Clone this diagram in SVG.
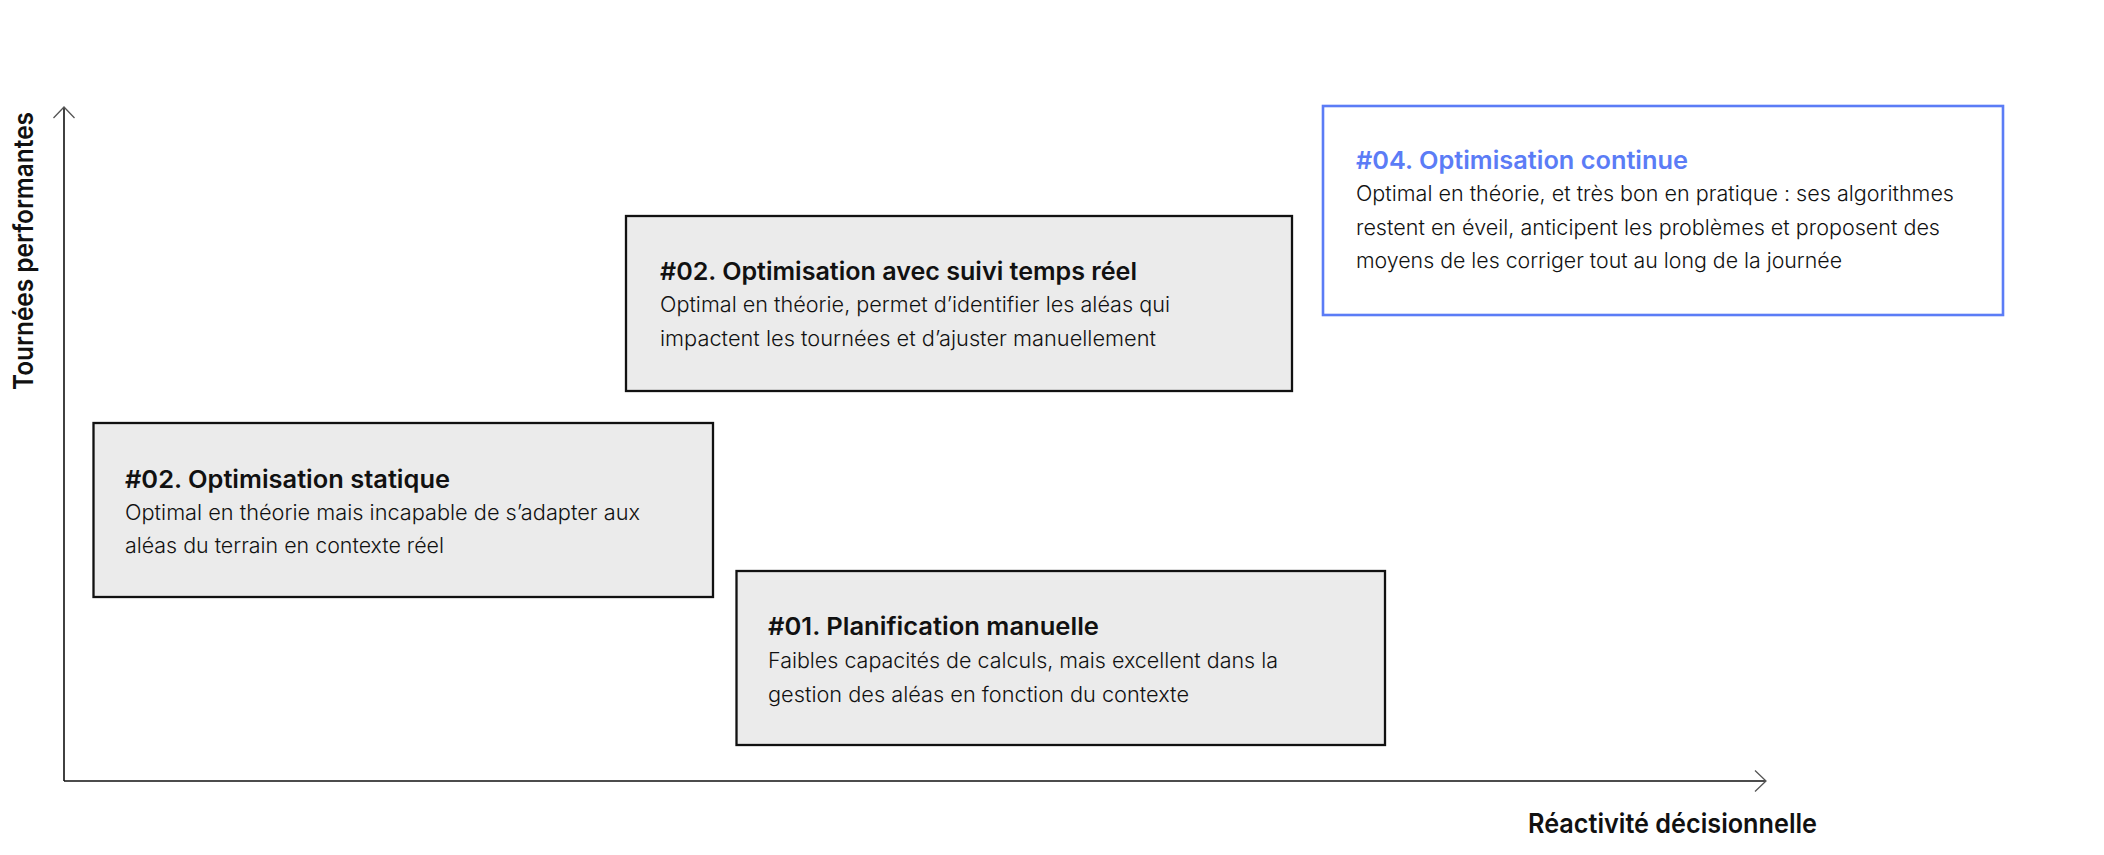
<svg xmlns="http://www.w3.org/2000/svg" width="2104" height="855" viewBox="0 0 2104 855">
<style>
.box{fill:#EBEBEB;stroke:#111;stroke-width:2.3}
.boxb{fill:#fff;stroke:#5B7CF6;stroke-width:2.6}
.t{font-family:Inter,"Liberation Sans",sans-serif;font-weight:600;font-size:24.5px;fill:#111}
.tb{fill:#5B7CF6}
.b{font-family:Inter,"Liberation Sans",sans-serif;font-weight:300;font-size:21px;fill:#111}
.ax{font-family:Inter,"Liberation Sans",sans-serif;font-weight:600;font-size:27px;fill:#111}
.axis{stroke:#111;stroke-width:1.6;fill:none}
</style>
<defs>
<marker id="arr" markerUnits="userSpaceOnUse" viewBox="0 0 13 24" refX="12" refY="12" markerWidth="13" markerHeight="24" orient="auto">
<path d="M1,1.5 L12,12 L1,22.5" fill="none" stroke="#555" stroke-width="1.3"/>
</marker>
</defs>
<rect width="2104" height="855" fill="#fff"/>
<g id="connectors">
<line class="axis" x1="64" y1="781" x2="64" y2="107" marker-end="url(#arr)"/>
<line class="axis" x1="64" y1="781" x2="1766" y2="781" marker-end="url(#arr)"/>
</g>
<g id="axis-y-label">
<text class="ax" transform="translate(33,390) rotate(-90)" textLength="278" lengthAdjust="spacingAndGlyphs">Tournées performantes</text>
</g>
<g id="axis-x-label">
<text class="ax" x="1528" y="833" textLength="289" lengthAdjust="spacingAndGlyphs">Réactivité décisionnelle</text>
</g>
<g id="node-statique">
<rect class="box" x="93.5" y="423" width="619.5" height="174"/>
<text class="t" x="125" y="488" textLength="325" lengthAdjust="spacingAndGlyphs">#02. Optimisation statique</text>
<text class="b" x="125" y="520" textLength="515" lengthAdjust="spacingAndGlyphs">Optimal en théorie mais incapable de s’adapter aux</text>
<text class="b" x="125" y="553" textLength="319" lengthAdjust="spacingAndGlyphs">aléas du terrain en contexte réel</text>
</g>
<g id="node-temps-reel">
<rect class="box" x="626" y="216" width="666" height="175"/>
<text class="t" x="660" y="280" textLength="477" lengthAdjust="spacingAndGlyphs">#02. Optimisation avec suivi temps réel</text>
<text class="b" x="660" y="312" textLength="510" lengthAdjust="spacingAndGlyphs">Optimal en théorie, permet d’identifier les aléas qui</text>
<text class="b" x="660" y="346" textLength="496" lengthAdjust="spacingAndGlyphs">impactent les tournées et d’ajuster manuellement</text>
</g>
<g id="node-manuelle">
<rect class="box" x="736.5" y="571" width="648.5" height="174"/>
<text class="t" x="768" y="635" textLength="331" lengthAdjust="spacingAndGlyphs">#01. Planification manuelle</text>
<text class="b" x="768" y="668" textLength="510" lengthAdjust="spacingAndGlyphs">Faibles capacités de calculs, mais excellent dans la</text>
<text class="b" x="768" y="702" textLength="421" lengthAdjust="spacingAndGlyphs">gestion des aléas en fonction du contexte</text>
</g>
<g id="node-continue">
<rect class="boxb" x="1323" y="106" width="680" height="209"/>
<text class="t tb" x="1356" y="169" textLength="332" lengthAdjust="spacingAndGlyphs">#04. Optimisation continue</text>
<text class="b" x="1356" y="201" textLength="598" lengthAdjust="spacingAndGlyphs">Optimal en théorie, et très bon en pratique : ses algorithmes</text>
<text class="b" x="1356" y="235" textLength="584" lengthAdjust="spacingAndGlyphs">restent en éveil, anticipent les problèmes et proposent des</text>
<text class="b" x="1356" y="268" textLength="486" lengthAdjust="spacingAndGlyphs">moyens de les corriger tout au long de la journée</text>
</g>
</svg>
